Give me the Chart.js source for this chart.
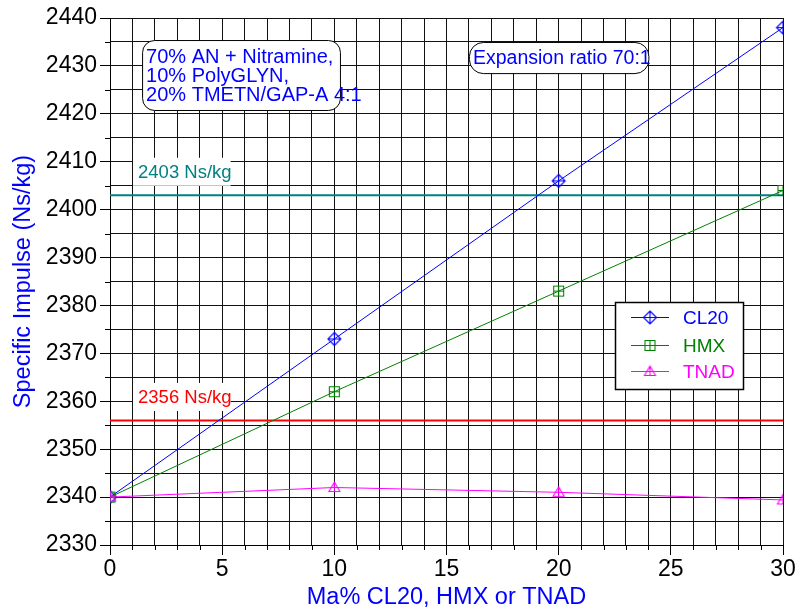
<!DOCTYPE html>
<html>
<head>
<meta charset="utf-8">
<title>Specific impulse vs nitramine content</title>
<script src="https://cdn.jsdelivr.net/npm/chart.js@4/dist/chart.umd.min.js"></script>
<style>
  html, body { margin: 0; padding: 0; background: #fff; }
  #wrap { width: 800px; height: 612px; }
</style>
</head>
<body>
<div id="wrap"><canvas id="c" width="800" height="612"></canvas></div>
<script>
// ---- data ----
const massPercent   = [0, 10, 20, 30];
const impulseCL20   = [2340, 2373, 2406, 2438];
const impulseHMX    = [2340, 2362, 2383, 2404];
const impulseTNAD   = [2340, 2342, 2341, 2339.4];
const seriesNames   = ['CL20', 'HMX', 'TNAD'];
const seriesColors  = ['#0000ff', '#008000', '#ff00ff'];
const referenceLevels = [2403, 2356];
const referenceLabels = ['2403 Ns/kg', '2356 Ns/kg'];
const referenceColors = ['#008080', '#ff0000'];
const noteLines  = ['70% AN + Nitramine,', '10% PolyGLYN,', '20% TMETN/GAP-A 4:1'];
const ratioNote  = 'Expansion ratio 70:1';
const xTitle = 'Ma% CL20, HMX or TNAD';
const yTitle = 'Specific Impulse (Ns/kg)';

const FONT = '"Liberation Sans", Arial, Helvetica, sans-serif';

// ---- hollow marker glyphs (outline with an inner cross/stroke) ----
function makeMarker(kind, color) {
  const s = 17, m = 8.5;
  const c = document.createElement('canvas');
  c.width = s; c.height = s;
  const g = c.getContext('2d');
  g.strokeStyle = color;
  g.lineWidth = 1.1;
  g.beginPath();
  if (kind === 'diamond') {
    const r = 6.5;
    g.moveTo(m, m - r); g.lineTo(m + r, m); g.lineTo(m, m + r); g.lineTo(m - r, m); g.closePath();
    g.moveTo(m - r, m); g.lineTo(m + r, m);
    g.moveTo(m, m - r); g.lineTo(m, m + r);
  } else if (kind === 'square') {
    const r = 5;
    g.rect(m - r, m - r, 2 * r, 2 * r);
    g.moveTo(m - r, m); g.lineTo(m + r, m);
    g.moveTo(m, m - r); g.lineTo(m, m + r);
  } else {
    const w = 5.5;
    g.moveTo(m, m - 5.5); g.lineTo(m + w, m + 4); g.lineTo(m - w, m + 4); g.closePath();
    g.moveTo(m, m - 5.5); g.lineTo(m, m + 4);
  }
  g.stroke();
  return c;
}
const markers = [
  makeMarker('diamond', seriesColors[0]),
  makeMarker('square', seriesColors[1]),
  makeMarker('triangle', seriesColors[2])
];

function points(ys) { return massPercent.map((x, i) => ({ x: x, y: ys[i] })); }
function flat(level) { return [{ x: 0, y: level }, { x: 30, y: level }]; }

const seriesValues = [impulseCL20, impulseHMX, impulseTNAD];
const datasets = seriesValues.map((ys, i) => ({
  label: seriesNames[i],
  data: points(ys),
  borderColor: seriesColors[i],
  backgroundColor: seriesColors[i],
  borderWidth: 1,
  pointStyle: markers[i],
  pointRadius: 7,
  tension: 0,
  order: 3 - i
}));
referenceLevels.forEach((lv, i) => datasets.push({
  label: referenceLabels[i],
  data: flat(lv),
  borderColor: referenceColors[i],
  borderWidth: 2,
  pointRadius: 0,
  order: 10
}));

function roundRect(ctx, x, y, w, h, r) {
  ctx.beginPath();
  ctx.moveTo(x + r, y);
  ctx.lineTo(x + w - r, y);
  ctx.arcTo(x + w, y, x + w, y + r, r);
  ctx.lineTo(x + w, y + h - r);
  ctx.arcTo(x + w, y + h, x + w - r, y + h, r);
  ctx.lineTo(x + r, y + h);
  ctx.arcTo(x, y + h, x, y + h - r, r);
  ctx.lineTo(x, y + r);
  ctx.arcTo(x, y, x + r, y, r);
  ctx.closePath();
}

// ---- decorations: short minor ticks, labelled reference levels, notes, legend ----
const decorations = {
  id: 'decorations',
  beforeDatasetsDraw(chart) {
    const { ctx, scales: { x, y } } = chart;
    ctx.save();
    ctx.font = '18.5px ' + FONT;
    ctx.textBaseline = 'middle';
    referenceLevels.forEach((lv, i) => {
      const tx = x.getPixelForValue(1.25);
      const ty = y.getPixelForValue(lv) - 23.5;
      const w = ctx.measureText(referenceLabels[i]).width;
      ctx.fillStyle = '#fff';
      ctx.fillRect(tx - 5, ty - 14, w + 4, 28);
      ctx.fillStyle = referenceColors[i];
      ctx.fillText(referenceLabels[i], tx, ty + 1);
    });
    ctx.restore();
  },
  afterDraw(chart) {
    const { ctx, chartArea: a, scales: { x, y } } = chart;
    ctx.save();
    // minor ticks
    ctx.strokeStyle = '#000';
    ctx.lineWidth = 1;
    ctx.beginPath();
    x.ticks.forEach(t => {
      if (t.value % 5 !== 0) {
        const px = Math.round(x.getPixelForValue(t.value)) + 0.5;
        ctx.moveTo(px, a.bottom); ctx.lineTo(px, a.bottom + 5);
      }
    });
    y.ticks.forEach(t => {
      if (t.value % 10 !== 0) {
        const py = Math.round(y.getPixelForValue(t.value)) + 0.5;
        ctx.moveTo(a.left - 5, py); ctx.lineTo(a.left, py);
      }
    });
    ctx.stroke();

    // composition note
    let l = x.getPixelForValue(1.43), t = y.getPixelForValue(2435.4);
    let r = x.getPixelForValue(10.25), b = y.getPixelForValue(2420.8);
    roundRect(ctx, l + 0.5, t + 0.5, r - l, b - t, 12);
    ctx.fillStyle = '#fff'; ctx.fill();
    ctx.strokeStyle = '#000'; ctx.lineWidth = 1; ctx.stroke();
    ctx.font = '20px ' + FONT;
    ctx.fillStyle = '#0000ff';
    ctx.textBaseline = 'middle';
    noteLines.forEach((s, i) => ctx.fillText(s, l + 4, t + 17 + i * 19.3));

    // expansion ratio note
    l = x.getPixelForValue(16.0); t = y.getPixelForValue(2435.0);
    r = x.getPixelForValue(24.0); b = y.getPixelForValue(2428.5);
    roundRect(ctx, l + 0.5, t + 0.5, r - l, b - t, 14);
    ctx.fillStyle = '#fff'; ctx.fill();
    ctx.strokeStyle = '#000'; ctx.stroke();
    ctx.font = '19.5px ' + FONT;
    ctx.fillStyle = '#0000ff';
    ctx.fillText(ratioNote, l + 4, (t + b) / 2 + 1);

    // legend
    l = Math.round(x.getPixelForValue(22.51)); t = Math.round(y.getPixelForValue(2380.7));
    r = Math.round(x.getPixelForValue(28.22)); b = Math.round(y.getPixelForValue(2362.6));
    ctx.fillStyle = '#fff';
    ctx.fillRect(l, t, r - l, b - t);
    ctx.strokeStyle = '#000'; ctx.lineWidth = 1.5;
    ctx.strokeRect(l + 0.5, t + 0.5, r - l, b - t);
    ctx.font = '19px ' + FONT;
    const rows = [15.5, 43.5, 69.5];
    seriesNames.forEach((name, i) => {
      const ry = t + rows[i];
      ctx.strokeStyle = seriesColors[i]; ctx.lineWidth = 1;
      ctx.beginPath(); ctx.moveTo(l + 16, ry); ctx.lineTo(l + 54, ry); ctx.stroke();
      ctx.drawImage(markers[i], l + 35 - 8.5, ry - 8.5);
      ctx.fillStyle = seriesColors[i];
      ctx.fillText(name, l + 68, ry + 1);
    });
    ctx.restore();
  }
};

const tickFont = { family: FONT, size: 23 };
const gridColor = '#111';

new Chart(document.getElementById('c'), {
  type: 'line',
  data: { datasets: datasets },
  options: {
    responsive: false,
    animation: false,
    devicePixelRatio: 1,
    layout: { padding: { top: 18, right: 17, left: 0, bottom: 0 } },
    plugins: { legend: { display: false }, tooltip: { enabled: false } },
    scales: {
      x: {
        type: 'linear', min: 0, max: 30,
        afterFit: s => { s.height = 67; },
        ticks: {
          stepSize: 1, autoSkip: false, maxRotation: 0, padding: 1,
          color: '#000', font: tickFont,
          callback: v => (v % 5 === 0 ? String(v) : '')
        },
        grid: {
          color: gridColor, lineWidth: 1, tickLength: 10,
          tickColor: c => (c.tick && c.tick.value % 5 === 0 ? '#000' : 'rgba(0,0,0,0)')
        },
        border: { color: '#000', width: 1 },
        title: { display: true, text: xTitle, color: '#0000ff',
                 font: { family: FONT, size: 23.5 }, padding: { top: 0, bottom: 0 } }
      },
      y: {
        type: 'linear', min: 2330, max: 2440,
        afterFit: s => { s.width = 110; },
        ticks: {
          stepSize: 5, autoSkip: false, padding: 3,
          color: '#000', font: tickFont,
          callback: v => (v % 10 === 0 ? String(v) : '')
        },
        grid: {
          color: gridColor, lineWidth: 1, tickLength: 10,
          tickColor: c => (c.tick && c.tick.value % 10 === 0 ? '#000' : 'rgba(0,0,0,0)')
        },
        border: { color: '#000', width: 1 },
        title: { display: true, text: yTitle, color: '#0000ff',
                 font: { family: FONT, size: 23.5 }, padding: { top: 9, bottom: 0 } }
      }
    }
  },
  plugins: [decorations]
});
</script>
</body>
</html>
